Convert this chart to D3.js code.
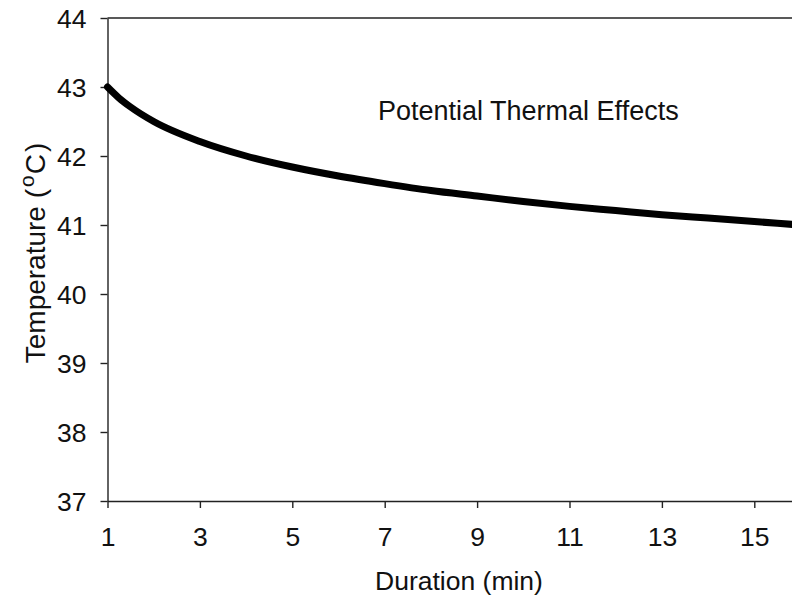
<!DOCTYPE html>
<html>
<head>
<meta charset="utf-8">
<script src="https://cdn.jsdelivr.net/npm/d3@7"></script>
<style>
  body { margin: 0; background: #fff; }
  svg text { font-family: "Liberation Sans", Arial, sans-serif; fill: #111; }
</style>
</head>
<body>
<svg id="chart" width="792" height="604"></svg>
<script>
// duration (min) and temperature (°C)
const duracao = [1, 1.25, 1.5, 2, 3, 4, 5, 6, 7, 8, 9, 10, 11, 12, 13, 14, 15, 16];
const temperatura = [43.0, 42.84, 42.71, 42.5, 42.21, 42.0, 41.84, 41.71, 41.6, 41.5, 41.42, 41.34, 41.27, 41.21, 41.15, 41.1, 41.05, 41.0];
const xTicks = [1, 3, 5, 7, 9, 11, 13, 15];
const yTicks = [37, 38, 39, 40, 41, 42, 43, 44];
const rotulo = "Potential Thermal Effects";

const width = 792, height = 604;
const svg = d3.select("#chart");

const x = d3.scaleLinear().domain([1, 16]).range([107.5, 800.5]);
const y = d3.scaleLinear().domain([37, 44]).range([501, 18]);

const fonte = 26.5;

// top frame line
svg.append("line")
    .attr("x1", x(1)).attr("x2", width)
    .attr("y1", y(44)).attr("y2", y(44))
    .attr("stroke", "#222").attr("stroke-width", 1.4);

const eixoX = svg.append("g")
    .attr("transform", "translate(0," + y(37) + ")")
    .call(d3.axisBottom(x).tickValues(xTicks).tickFormat(d3.format("d"))
        .tickSize(7).tickPadding(19).tickSizeOuter(0));

const eixoY = svg.append("g")
    .attr("transform", "translate(" + x(1) + ",0)")
    .call(d3.axisLeft(y).tickValues(yTicks).tickFormat(d3.format("d"))
        .tickSize(7).tickPadding(14).tickSizeOuter(0));

[eixoX, eixoY].forEach(g => {
    g.selectAll("path, line").attr("stroke", "#222").attr("stroke-width", 1.4);
    g.selectAll("text").style("font-size", fonte + "px").attr("fill", "#111")
        .style("font-family", "'Liberation Sans', Arial, sans-serif");
});
eixoY.selectAll("text").attr("dy", "0.36em");

const pontos = duracao.map((d, i) => [d, temperatura[i]]);
const linha = d3.line()
    .x(d => x(d[0]))
    .y(d => y(d[1]))
    .curve(d3.curveMonotoneX);

svg.append("path")
    .datum(pontos)
    .attr("d", linha)
    .attr("fill", "none")
    .attr("stroke", "#000")
    .attr("stroke-width", 7)
    .attr("stroke-linecap", "round");

svg.append("text")
    .attr("x", 378).attr("y", 120)
    .style("font-size", "27px")
    .text(rotulo);

svg.append("text")
    .attr("x", 459).attr("y", 590)
    .attr("text-anchor", "middle")
    .style("font-size", fonte + "px")
    .text("Duration (min)");

const tituloY = svg.append("text")
    .attr("transform", "translate(45,253) rotate(-90)")
    .attr("text-anchor", "middle")
    .style("font-size", "28px");
tituloY.append("tspan").text("Temperature (");
tituloY.append("tspan").attr("dx", 2).attr("baseline-shift", "super").style("font-size", "21px").text("o");
tituloY.append("tspan").attr("dx", 1).text("C");
tituloY.append("tspan").attr("dx", 2).text(")");
</script>
</body>
</html>
